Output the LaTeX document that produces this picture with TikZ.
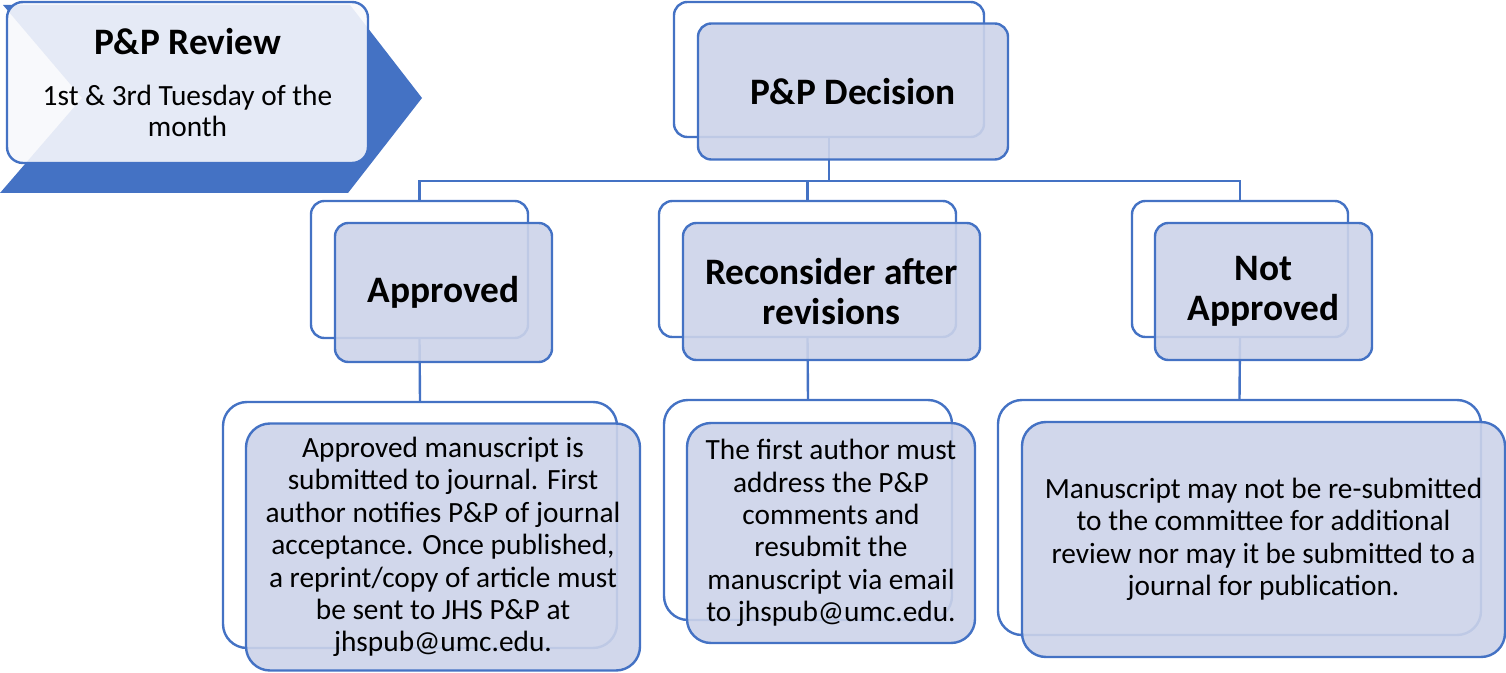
\documentclass[tikz,border=0pt]{standalone}
\usepackage{fontspec}
\setmainfont{Carlito}
\definecolor{smblue}{HTML}{4472C4}
\definecolor{headfill}{RGB}{204,211,233}
\definecolor{reviewfill}{RGB}{247,248,252}
\begin{document}
\begin{tikzpicture}[x=0.75pt, y=-0.75pt, line width=1.8pt,
  box/.style 2 args={rectangle, inner sep=0pt, minimum width=#1*0.75pt, minimum height=#2*0.75pt},
  back node/.style={draw=smblue, fill=white},
  front node/.style={draw=smblue, fill=headfill, fill opacity=0.9, text opacity=1, align=center},
  head/.style={font=\fontsize{28}{30}\selectfont\bfseries},
  note/.style={font=\fontsize{22}{24.3}\selectfont},
  link/.style={draw=smblue}]
\useasboundingbox (0,0) rectangle (1506,673);
\fill[smblue] (3,5) -- (350,5) -- (422,98) -- (348,193) -- (0,193) -- (82,98) -- cycle;
\node[box={361}{161}, rounded corners=12pt, draw=smblue, fill=reviewfill, fill opacity=0.9, text opacity=1, align=center,
  font=\fontsize{22}{23.3}\selectfont] (review) at (187.5,82.5)
  {{\fontsize{28}{30}\selectfont\bfseries P\&P Review}\\[15pt]1st \& 3rd Tuesday of the\\month};
\begin{scope}[rounded corners=10pt]
\node[box={310}{135}, back node] (dec-b) at (829,69.5) {};
\node[box={217}{137}, back node] (appr-b) at (419.5,269.5) {};
\node[box={297}{136}, back node] (recon-b) at (807.5,269) {};
\node[box={216}{136}, back node] (nappr-b) at (1240,269) {};
\end{scope}
\begin{scope}[rounded corners=18pt]
\node[box={394}{246}, back node] (apprnote-b) at (420,525) {};
\node[box={288}{220}, back node] (reconnote-b) at (808,510) {};
\node[box={483}{235}, back node] (napprnote-b) at (1239.5,517.5) {};
\end{scope}
\coordinate (bus) at (808,181);
\draw[link] (dec-b.south) -- (dec-b.south |- bus);
\draw[link] (appr-b.north) |- (bus) -| (nappr-b.north);
\draw[link] (recon-b.north) -- (recon-b.north |- bus);
\draw[link] (appr-b.south) -- (apprnote-b.north);
\draw[link] (recon-b.south) -- (reconnote-b.north);
\draw[link] (nappr-b.south) -- (napprnote-b.north);
\begin{scope}[rounded corners=10pt]
\node[box={310}{136}, front node, head] (dec) at (853,91.5) {P\&P Decision};
\node[box={217}{139}, front node, head] (appr) at (443.5,292.5) {Approved};
\node[box={297}{137}, front node, head] (recon) at (831.5,291.5) {Reconsider after\\revisions};
\node[box={217}{137}, front node, head] (nappr) at (1263.5,291.5) {Not\\Approved};
\end{scope}
\begin{scope}[rounded corners=18pt]
\node[box={394}{247}, front node, note] (apprnote) at (443,547) {Approved manuscript is\\submitted to journal. First\\author notifies P\&P of journal\\acceptance. Once published,\\a reprint/copy of article must\\be sent to JHS P\&P at\\jhspub@umc.edu.};
\node[box={288}{220}, front node, note] (reconnote) at (831,533) {The first author must\\address the P\&P\\comments and\\resubmit the\\manuscript via email\\to jhspub@umc.edu.};
\node[box={483}{235}, front node, note] (napprnote) at (1263.5,539.5) {Manuscript may not be re-submitted\\to the committee for additional\\review nor may it be submitted to a\\journal for publication.};
\end{scope}
\end{tikzpicture}
\end{document}
